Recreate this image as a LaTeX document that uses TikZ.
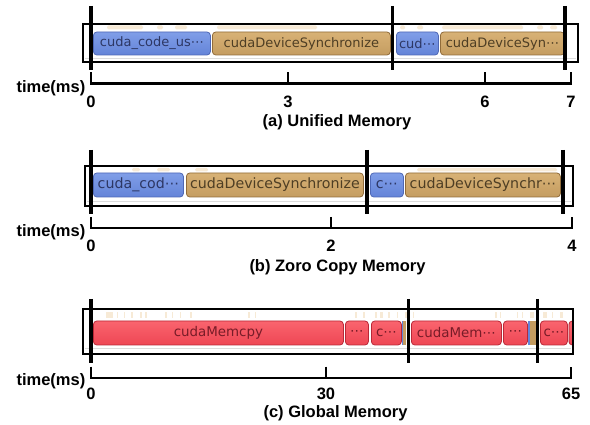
\documentclass[tikz,border=0pt]{standalone}
\usepackage{fontspec}
\setmainfont{Liberation Sans}
\newfontfamily\blkfont{DejaVu Sans}
\definecolor{blueL}{RGB}{128,158,232}
\definecolor{blueM}{RGB}{100,132,216}
\definecolor{blueD}{RGB}{78,104,182}
\definecolor{blueT}{RGB}{45,55,100}
\definecolor{brownL}{RGB}{216,178,118}
\definecolor{brownM}{RGB}{196,156,96}
\definecolor{brownD}{RGB}{145,108,58}
\definecolor{brownT}{RGB}{78,62,36}
\definecolor{redL}{RGB}{250,100,110}
\definecolor{redM}{RGB}{238,70,84}
\definecolor{redD}{RGB}{185,40,55}
\definecolor{redT}{RGB}{120,28,40}
\definecolor{beige}{RGB}{247,234,214}
\definecolor{rowline}{RGB}{220,220,220}
\begin{document}
\begin{tikzpicture}[x=1pt,y=-1pt,
  frame/.style={draw=black,line width=2pt},
  marker/.style={line width=3.4pt,black},
  axisline/.style={line width=2.6pt,black,line join=miter},
  lbl/.style={font=\fontsize{16.5}{18}\selectfont\bfseries,inner sep=0pt},
  captext/.style={font=\fontsize{16.5}{18}\selectfont\bfseries,inner sep=0pt},
  blk/.style={rounded corners=3.5pt,inner sep=0pt,anchor=west,line width=0.8pt},
  bfa/.style={font=\blkfont\fontsize{13}{15}\selectfont},
  bfb/.style={font=\blkfont\fontsize{14.2}{16}\selectfont},
  bfc/.style={font=\blkfont\fontsize{13.4}{15}\selectfont},
  blueblk/.style={blk,draw=blueD,top color=blueL,bottom color=blueM,text=blueT},
  brownblk/.style={blk,draw=brownD,top color=brownL,bottom color=brownM,text=brownT},
  redblk/.style={blk,draw=redD,top color=redL,bottom color=redM,text=redT},
  bit/.style={fill=beige},
  row/.style={draw=rowline,line width=0.8pt}
]
\useasboundingbox (0,0) rectangle (590,425);

% ================= (a) Unified Memory =================
\fill[white] (83,24) rectangle (578,62.5);
\foreach \a/\b in {107/143,157/163,175/187,217/317,400/405,417/423,442/523,537/543,550/557}
  \fill[bit,rounded corners=1.5pt] (\a,25.5) rectangle (\b,29.5);
\draw[row] (85,58.5) -- (576,58.5);
\node[blueblk,bfa,minimum width=117pt,minimum height=23pt] (a1) at (93,43.5) {cuda\_code\_us⋯};
\node[brownblk,bfa,minimum width=178pt,minimum height=23pt] (a2) at (212,43.5) {cudaDeviceSynchronize};
\node[blueblk,bfa,minimum width=42pt,minimum height=23pt] (a3) at (396,43.5) {cud⋯};
\node[brownblk,bfa,minimum width=124pt,minimum height=23pt] (a4) at (440,43.5) {cudaDeviceSyn⋯};
\draw[frame] (83,24) rectangle (578,62.5);
\coordinate (am1t) at (91,6);   \coordinate (am1b) at (91,70.5);
\coordinate (am2t) at (392.5,6);\coordinate (am2b) at (392.5,70.5);
\coordinate (am3t) at (565,6);  \coordinate (am3b) at (565,70.5);
\draw[marker] (am1t) -- (am1b);
\draw[marker] (am2t) -- (am2b);
\draw[marker] (am3t) -- (am3b);
\coordinate (at0) at (91,72.5); \coordinate (ab0) at (91,83.5);
\coordinate (at3) at (288,72.5); \coordinate (ab3) at (288,83.5);
\coordinate (at6) at (485,72.5); \coordinate (ab6) at (485,83.5);
\coordinate (at7) at (571,72.5); \coordinate (ab7) at (571,83.5);
\draw[axisline] (at0) -- (ab0) -- (ab7) -- (at7);
\draw[axisline] (at3) -- (ab3);
\draw[axisline] (at6) -- (ab6);
\node[lbl,anchor=east] (atime) at (85.5,88) {time(ms)};
\node[lbl] (al0) at (91,102) {0};
\node[lbl] (al3) at (288,102) {3};
\node[lbl] (al6) at (485,102) {6};
\node[lbl] (al7) at (571,102) {7};
\node[captext] (acap) at (337,122.5) {(a) Unified Memory};

% ================= (b) Zoro Copy Memory =================
\fill[white] (85,166.5) rectangle (573,206);
\foreach \a/\b in {132/140,157/170,195/208,417/557}
  \fill[bit,rounded corners=1.5pt] (\a,168) rectangle (\b,171.5);
\draw[row] (87,201.5) -- (571,201.5);
\node[blueblk,bfb,minimum width=90pt,minimum height=24pt] (b1) at (93,185) {cuda\_cod⋯};
\node[brownblk,bfb,minimum width=177pt,minimum height=24pt] (b2) at (186,185) {cudaDeviceSynchronize};
\node[blueblk,bfb,minimum width=33pt,minimum height=24pt] (b3) at (370,185) {c⋯};
\node[brownblk,bfb,minimum width=155pt,minimum height=24pt] (b4) at (405,185) {cudaDeviceSynchr⋯};
\draw[frame] (85,166.5) rectangle (573,206);
\coordinate (bm1t) at (91,150);  \coordinate (bm1b) at (91,214.5);
\coordinate (bm2t) at (367,150); \coordinate (bm2b) at (367,214.5);
\coordinate (bm3t) at (563,150); \coordinate (bm3b) at (563,214.5);
\draw[marker] (bm1t) -- (bm1b);
\draw[marker] (bm2t) -- (bm2b);
\draw[marker] (bm3t) -- (bm3b);
\coordinate (bt0) at (91,217); \coordinate (bb0) at (91,228);
\coordinate (bt2) at (331,217); \coordinate (bb2) at (331,228);
\coordinate (bt4) at (572,217); \coordinate (bb4) at (572,228);
\draw[axisline] (bt0) -- (bb0) -- (bb4) -- (bt4);
\draw[axisline] (bt2) -- (bb2);
\node[lbl,anchor=east] (btime) at (85.5,232) {time(ms)};
\node[lbl] (bl0) at (91,246) {0};
\node[lbl] (bl2) at (331,246) {2};
\node[lbl] (bl4) at (572,246) {4};
\node[captext] (bcap) at (337.5,267.5) {(b) Zoro Copy Memory};

% ================= (c) Global Memory =================
\fill[white] (83,309.5) rectangle (573,353.5);
\foreach \a/\b in {106/113,117/118,124/125,131/133,140/142,145/147,165/167,172/173,180/181,190/192,248/250,255/256,
                   355/357,363/365,375/377,380/383,388/390,397/398,405/408,413/414,495/497,500/501,517/518,522/523,530/534,543/547,552/553,560/563}
  \fill[bit] (\a,312) rectangle (\b,318);
\draw[row] (85,348) -- (571,348);
\node[redblk,bfc,minimum width=250pt,minimum height=24pt] (c1) at (93,333) {cudaMemcpy};
\node[redblk,bfc,minimum width=23pt,minimum height=24pt] (c2) at (345,333) {⋯};
\node[redblk,bfc,minimum width=30pt,minimum height=24pt] (c3) at (371,333) {c⋯};
\fill[brownM] (401.5,321) rectangle (406,345);
\fill[blueM] (401.5,321) rectangle (402.8,345);
\node[redblk,bfc,minimum width=90pt,minimum height=24pt] (c4) at (411,333) {cudaMem⋯};
\node[redblk,bfc,minimum width=24pt,minimum height=24pt] (c5) at (503,333) {⋯};
\fill[blueM] (527.5,321) rectangle (529.5,345);
\fill[brownM] (529.5,321) rectangle (538,345);
\node[redblk,bfc,minimum width=27pt,minimum height=24pt] (c6) at (540,333) {c⋯};
\begin{scope}
  \clip (540,318) rectangle (573,350);
  \node[redblk,minimum width=20pt,minimum height=24pt] (c7) at (568.5,333) {};
\end{scope}
\draw[frame] (83,309.5) rectangle (573,353.5);
\coordinate (cm1t) at (91,299);    \coordinate (cm1b) at (91,363);
\coordinate (cm2t) at (408.5,299); \coordinate (cm2b) at (408.5,363);
\coordinate (cm3t) at (537.5,299); \coordinate (cm3b) at (537.5,363);
\draw[marker] (cm1t) -- (cm1b);
\draw[marker] (cm2t) -- (cm2b);
\draw[marker] (cm3t) -- (cm3b);
\coordinate (ct0) at (91,366.5); \coordinate (cb0) at (91,378);
\coordinate (ct30) at (326,366.5); \coordinate (cb30) at (326,378);
\coordinate (ct65) at (571,366.5); \coordinate (cb65) at (571,378);
\draw[axisline] (ct0) -- (cb0) -- (cb65) -- (ct65);
\draw[axisline] (ct30) -- (cb30);
\node[lbl,anchor=east] (ctime) at (85.5,381) {time(ms)};
\node[lbl] (cl0) at (91,394) {0};
\node[lbl] (cl30) at (326,394) {30};
\node[lbl] (cl65) at (571,394) {65};
\node[captext] (ccap) at (335.5,413.5) {(c) Global Memory};
\end{tikzpicture}
\end{document}
